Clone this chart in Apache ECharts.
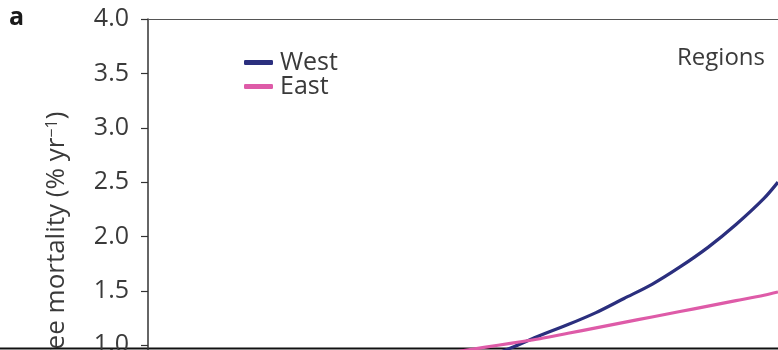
<!DOCTYPE html>
<html>
<head>
<meta charset="utf-8">
<script src="https://cdn.jsdelivr.net/npm/echarts@6/dist/echarts.min.js"></script>
<style>
  html, body { margin: 0; padding: 0; background: #fff; }
  #chart { width: 778px; height: 350px; }
</style>
</head>
<body>
<div id="chart"></div>
<script>
// Tree mortality by region (% per year)
const years = [1985, 1987, 1989, 1991, 1993, 1995, 1997, 1999, 2001, 2003, 2005, 2007, 2008];
const westMortality = [0.80, 0.88, 0.98, 1.09, 1.19, 1.30, 1.43, 1.56, 1.72, 1.90, 2.11, 2.35, 2.50];
const eastMortality = [0.94, 0.98, 1.02, 1.06, 1.11, 1.16, 1.21, 1.26, 1.31, 1.36, 1.41, 1.46, 1.49];
const yTicks = [0, 0.5, 1.0, 1.5, 2.0, 2.5, 3.0, 3.5, 4.0];
const seriesNames = ['West', 'East'];

const FONT = '"Open Sans", "Noto Sans", sans-serif';
const TEXT = '#3a3a3a';

const pair = (xs, ys) => xs.map((x, i) => [x, ys[i]]);

const chart = echarts.init(document.getElementById('chart'), null, { renderer: 'canvas' });
chart.setOption({
  animation: false,
  backgroundColor: '#fff',
  grid: { left: 148, top: 19, width: 630, height: 435, containLabel: false, outerBoundsMode: 'none' },
  xAxis: {
    type: 'value',
    min: 1963,
    max: 2008,
    position: 'top',
    axisLine: { show: true, onZero: false, lineStyle: { color: '#555', width: 1.2 } },
    axisTick: { show: false },
    axisLabel: { show: false },
    splitLine: { show: false }
  },
  yAxis: {
    type: 'value',
    min: yTicks[0],
    max: yTicks[yTicks.length - 1],
    interval: 0.5,
    axisLine: { show: true, lineStyle: { color: '#333', width: 1.5 } },
    axisTick: { show: true, inside: false, length: 7, lineStyle: { color: '#333', width: 1.2 } },
    axisLabel: {
      margin: 19,
      fontFamily: FONT,
      fontSize: 25,
      color: TEXT,
      formatter: v => v.toFixed(1)
    },
    splitLine: { show: false }
  },
  legend: {
    data: seriesNames,
    orient: 'vertical',
    left: 239,
    top: 45,
    itemWidth: 29,
    itemHeight: 5,
    itemGap: -1,
    icon: 'roundRect',
    textStyle: { fontFamily: FONT, fontSize: 25, color: TEXT, padding: [0, 0, 0, 2] }
  },
  series: [
    {
      name: seriesNames[0],
      type: 'line',
      data: pair(years, westMortality),
      smooth: 0.3,
      showSymbol: false,
      symbol: 'none',
      lineStyle: { color: '#2b2f7e', width: 3.2 },
      itemStyle: { color: '#2b2f7e' }
    },
    {
      name: seriesNames[1],
      type: 'line',
      data: pair(years, eastMortality),
      smooth: 0.3,
      showSymbol: false,
      symbol: 'none',
      lineStyle: { color: '#de5ba8', width: 3.2 },
      itemStyle: { color: '#de5ba8' }
    }
  ],
  graphic: [
    {
      type: 'text',
      left: 9,
      top: 5,
      style: { text: 'a', fontFamily: FONT, fontSize: 25, fontWeight: 'bold', fill: '#1a1a1a' }
    },
    {
      type: 'text',
      left: 677,
      top: 46,
      style: { text: 'Regions', fontFamily: FONT, fontSize: 24, fill: TEXT }
    },
    {
      type: 'text',
      x: 57,
      y: 243,
      rotation: Math.PI / 2,
      style: {
        text: '{n|Tree mortality (% yr}{s|−1}{n|)}',
        align: 'center',
        verticalAlign: 'middle',
        rich: {
          n: { fontFamily: FONT, fontSize: 26, fill: TEXT, color: TEXT },
          s: { fontFamily: FONT, fontSize: 16, fill: TEXT, color: TEXT, verticalAlign: 'top', padding: [0, 0, 10, 0] }
        }
      }
    },
    {
      type: 'line',
      shape: { x1: 0, y1: 348.5, x2: 778, y2: 348.5 },
      style: { stroke: '#111', lineWidth: 2 }
    }
  ]
});
</script>
</body>
</html>
